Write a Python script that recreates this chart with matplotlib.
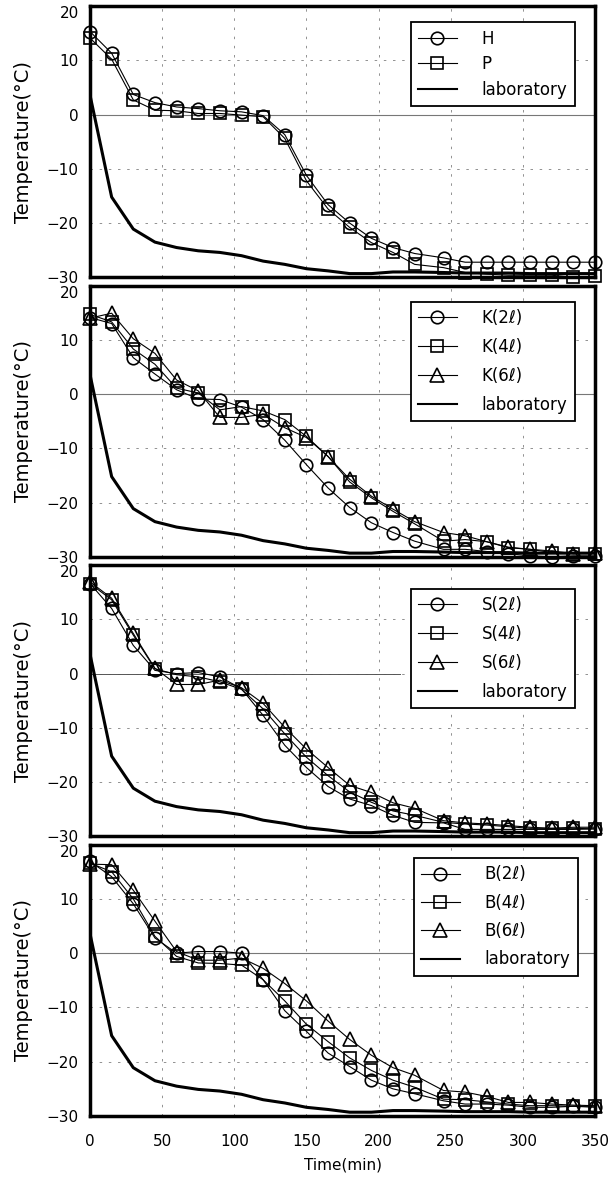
import matplotlib.pyplot as plt

plt.rcParams['font.family'] = ['DejaVu Sans']

# sampling times (min)
times = [0, 15, 30, 45, 60, 75, 90, 105, 120, 135, 150, 165, 180, 195, 210,
         225, 245, 260, 275, 290, 305, 320, 335, 350]

# laboratory air temperature
lab = [3.6, -15.2, -21.1, -23.5, -24.5, -25.1, -25.4, -26.0, -27.0, -27.6,
       -28.4, -28.8, -29.3, -29.3, -29.0, -29.0, -29.1, -29.2, -29.2, -29.2,
       -29.3, -29.3, -29.3, -29.3]

h_temp = [15.3, 11.3, 3.7, 2.2, 1.4, 1.1, 0.7, 0.5, -0.2, -3.7, -11.2, -16.6,
          -20.0, -22.8, -24.5, -25.6, -26.4, -27.2, -27.2, -27.2, -27.2, -27.2,
          -27.2, -27.2]
p_temp = [14.1, 10.2, 2.7, 0.8, 0.7, 0.2, 0.2, -0.1, -0.4, -4.4, -12.2, -17.4,
          -20.8, -23.6, -25.4, -27.6, -28.2, -29.1, -29.4, -29.6, -29.6, -29.6,
          -30.0, -29.8]

k2 = [14.1, 13.0, 6.7, 3.7, 0.8, -0.9, -1.0, -2.4, -4.7, -8.5, -13.0, -17.3,
      -20.9, -23.7, -25.5, -27.1, -28.6, -28.6, -29.0, -29.4, -29.8, -30.0,
      -29.8, -29.8]
k4 = [14.7, 13.3, 8.3, 5.5, 1.1, 0.2, -2.9, -2.3, -3.1, -4.7, -7.8, -11.5,
      -16.2, -19.1, -21.6, -23.9, -27.1, -26.8, -27.2, -28.3, -28.6, -29.2,
      -29.4, -29.4]
k6 = [14.0, 14.9, 10.2, 7.5, 2.6, 0.6, -4.3, -4.3, -3.7, -6.2, -8.0, -11.5,
      -15.7, -18.8, -21.2, -23.5, -25.5, -26.1, -27.2, -28.2, -28.6, -28.9,
      -29.4, -29.2]

s2 = [16.6, 12.0, 5.2, 0.6, 0.0, 0.2, -0.6, -2.8, -7.7, -13.2, -17.3, -20.8,
      -23.1, -24.3, -26.1, -27.4, -27.5, -28.7, -28.7, -28.7, -28.7, -28.7,
      -28.7, -28.6]
s4 = [16.6, 13.6, 7.1, 0.9, -0.2, -0.6, -1.5, -2.9, -6.5, -11.1, -15.4, -18.8,
      -21.8, -23.7, -25.3, -26.1, -27.4, -27.7, -27.9, -28.2, -28.5, -28.5,
      -28.5, -28.6]
s6 = [16.9, 13.9, 7.4, 1.0, -2.0, -2.0, -1.2, -2.6, -5.5, -9.9, -13.9, -17.3,
      -20.6, -21.9, -23.8, -24.8, -27.1, -27.5, -27.7, -28.0, -28.3, -28.5,
      -28.3, -28.3]

b2 = [16.9, 14.1, 9.1, 2.8, 0.0, 0.3, 0.3, 0.0, -4.9, -10.6, -14.4, -18.4,
      -20.9, -23.4, -25.0, -25.9, -27.2, -27.8, -27.8, -28.0, -28.4, -28.4,
      -28.2, -28.4]
b4 = [16.6, 15.0, 10.0, 3.1, -0.6, -1.8, -1.9, -2.2, -4.9, -8.8, -13.1, -16.3,
      -19.3, -21.6, -23.4, -24.7, -26.9, -27.0, -27.4, -27.8, -28.1, -28.1,
      -28.2, -28.2]
b6 = [16.4, 16.3, 11.6, 5.9, 0.3, -1.3, -1.3, -0.9, -2.8, -5.6, -8.8, -12.5,
      -15.9, -18.8, -21.1, -22.5, -25.3, -25.6, -26.4, -27.5, -27.5, -27.8,
      -28.0, -28.1]

panels = [
    ([h_temp, p_temp], ['H', 'P']),
    ([k2, k4, k6], ['K(2ℓ)', 'K(4ℓ)', 'K(6ℓ)']),
    ([s2, s4, s6], ['S(2ℓ)', 'S(4ℓ)', 'S(6ℓ)']),
    ([b2, b4, b6], ['B(2ℓ)', 'B(4ℓ)', 'B(6ℓ)']),
]
markers = ['o', 's', '^']
legend_anchor = [(0.96, 0.94), (0.96, 0.94), (0.96, 0.913), (0.966, 0.951)]
legend_spacing = [0.45, 0.65, 0.65, 0.62]

fig, ax = plt.subplots(4, 1, sharex=True, figsize=(6.12, 11.8), dpi=100)
fig.subplots_adjust(left=90 / 612, right=595 / 612, top=1 - 6 / 1180,
                    bottom=1 - 1116 / 1180, hspace=0.03)

for i, (series, labels) in enumerate(panels):
    a = ax[i]
    for x in range(50, 350, 50):
        a.axvline(x, color='gray', lw=0.6, ls=(0, (3, 8)), zorder=0)
    for y in [10, -10, -20]:
        a.axhline(y, color='gray', lw=0.6, ls=(0, (3, 8)), zorder=0)
    if i == 2:
        a.axhline(0, color='gray', lw=0.6, ls=(0, (3, 8)), zorder=0)
        a.plot([0, 215], [0, 0], color='#555555', lw=0.7, zorder=1)
    else:
        a.axhline(0, color='#777777', lw=0.8, zorder=1)

    for j, vals in enumerate(series):
        ms = 9.5 if markers[j] == '^' else 9
        a.plot(times, vals, color='black', lw=0.8, marker=markers[j],
               ms=ms, mfc='none', mec='black', mew=1.2,
               label=labels[j], clip_on=False, zorder=3)
    a.plot(times, lab, color='black', lw=2.2, label='laboratory', zorder=2)

    a.set_xlim(0, 350)
    a.set_ylim(-30, 20)
    a.set_yticks(range(-30, 21, 10))
    a.set_xticks(range(0, 351, 50))
    a.tick_params(length=0, labelsize=11, pad=8)
    # top label sits just under the frame, like the original
    a.yaxis.get_major_ticks()[-1].label1.set_verticalalignment('top')
    for s in a.spines.values():
        s.set_linewidth(2.5)
    a.set_ylabel('Temperature(°C)', fontsize=14)
    a.yaxis.set_label_coords(-0.113, 0.5)

    leg = a.legend(loc='upper right', bbox_to_anchor=legend_anchor[i],
                   borderaxespad=0, fancybox=False, edgecolor='black',
                   framealpha=1, fontsize=12, handlelength=2.3,
                   handletextpad=1.5, labelspacing=legend_spacing[i],
                   borderpad=0.45)
    leg.get_frame().set_linewidth(1.3)
    for line in leg.get_lines():
        if line.get_label() == 'laboratory':
            line.set_linewidth(1.5)

ax[3].tick_params(axis='x', pad=13)
ax[3].set_xlabel('Time(min)', fontsize=11, labelpad=6)

plt.savefig('out.png', dpi=100)
